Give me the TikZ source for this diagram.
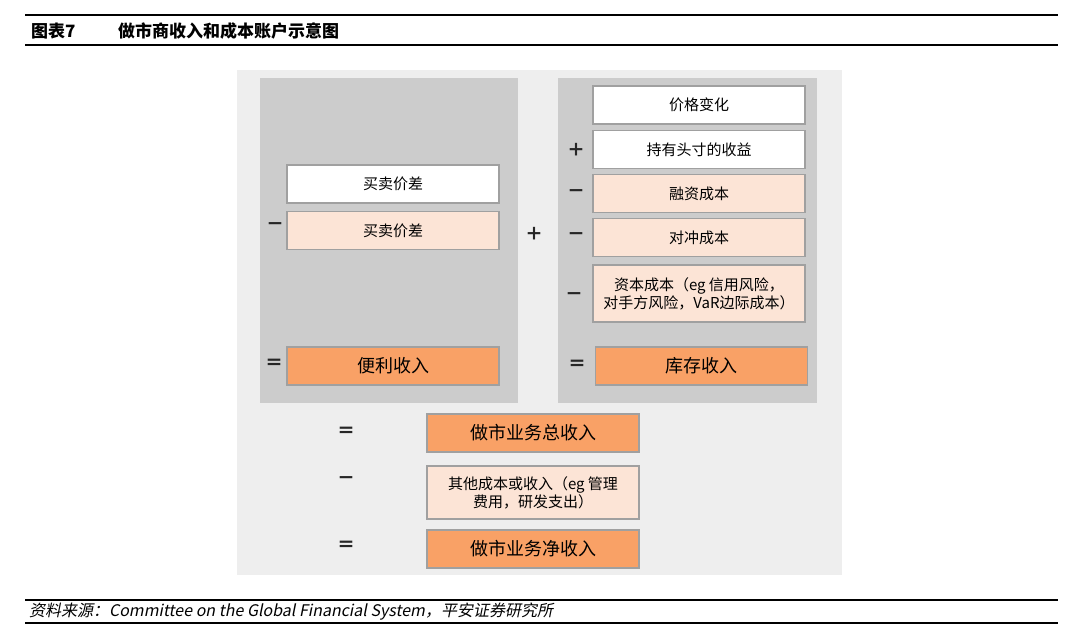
\documentclass[tikz,border=0pt]{standalone}
\usepackage{fontspec}
\setmainfont{Noto Sans CJK SC}
\newfontfamily\cjkslant[FakeSlant=0.2]{Noto Sans CJK SC}
\usepackage{tikz}
\usetikzlibrary{positioning}
\definecolor{bgouter}{RGB}{238, 238, 238}
\definecolor{panelgray}{RGB}{204, 204, 204}
\definecolor{costpink}{RGB}{252, 228, 214}
\definecolor{incomeorange}{RGB}{249, 161, 102}
\definecolor{boxline}{RGB}{160, 160, 160}

\begin{document}
\begin{tikzpicture}[x=0.5pt, y=-0.5pt,
  box/.style={rectangle, draw=boxline, line width=0.6pt, minimum width=106pt, minimum height=19pt, inner sep=0pt, align=center, font=\fontsize{7.5}{9}\selectfont},
  plainbox/.style={box, fill=white},
  costbox/.style={box, fill=costpink},
  sumbox/.style={box, fill=incomeorange, font=\fontsize{9}{10}\selectfont},
  sign/.style={inner sep=0pt, text=black!85, font=\fontsize{9}{10}\selectfont\bfseries}]
\useasboundingbox (0,0) rectangle (1080,641);
% header and footer rules
\draw[line width=0.9pt] (25,15) -- (1058,15);
\draw[line width=0.9pt] (25,45) -- (1058,45);
\node[anchor=west, font=\fontsize{8.5}{10}\selectfont\bfseries] (fignum) at (24,31) {图表7};
\node[anchor=west, font=\fontsize{8.5}{10}\selectfont\bfseries] (figtitle) at (111,31) {做市商收入和成本账户示意图};
\draw[line width=0.9pt] (25,600) -- (1058,600);
\draw[line width=0.9pt] (25,623) -- (1058,623);
\node[anchor=west, font=\fontsize{8}{10}\cjkslant] (source) at (22,612) {资料来源：Committee on the Global Financial System，平安证券研究所};
% panels
\fill[bgouter] (237,70) rectangle (842,575);
\fill[panelgray] (260,78) rectangle (518,403);
\fill[panelgray] (558,78) rectangle (817,403);
% left panel
\node[plainbox] (spread) at (393,184) {买卖价差};
\node[costbox] (spreadcost) at (393,230.5) {买卖价差};
\node[sumbox] (convenience) at (393,366) {便利收入};
\node[sign] (m1) at (275,227) {－};
\node[sign] (e1) at (274,364) {＝};
\node[sign] (p0) at (534,234) {＋};
% right panel
\node[plainbox] (price) at (699,105) {价格变化};
\node[plainbox] (carry) at (699,149.5) {持有头寸的收益};
\node[costbox] (funding) at (699,193.5) {融资成本};
\node[costbox] (hedging) at (699,237.5) {对冲成本};
\node[costbox, minimum height=28.5pt] (capital) at (699,293.5) {资本成本（eg 信用风险，\\对手方风险，VaR边际成本）};
\node[sumbox] (inventory) at (701.5,366) {库存收入};
\node[sign] (p1) at (576,150) {＋};
\node[sign] (m2) at (576,194) {－};
\node[sign] (m3) at (576,237) {－};
\node[sign] (m4) at (574,297) {－};
\node[sign] (e2) at (577,365) {＝};
% totals
\node[sumbox] (gross) at (533,433) {做市业务总收入};
\node[costbox, minimum height=26.5pt] (other) at (533,492.5) {其他成本或收入（eg 管理\\费用，研发支出）};
\node[sumbox] (net) at (533,549) {做市业务净收入};
\node[sign] (e3) at (346,432) {＝};
\node[sign] (m5) at (346,481) {－};
\node[sign] (e4) at (346,546) {＝};
\end{tikzpicture}
\end{document}
